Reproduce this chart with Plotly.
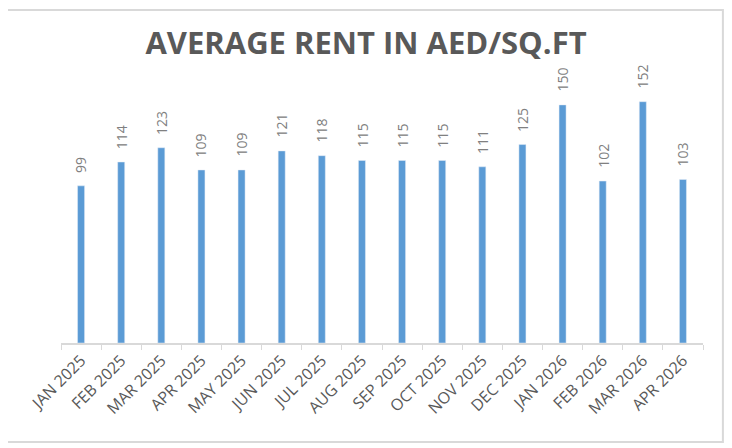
import plotly.graph_objects as go

# Loyers moyens (AED/sq.ft)
mois = ['JAN 2025', 'FEB 2025', 'MAR 2025', 'APR 2025', 'MAY 2025', 'JUN 2025',
        'JUL 2025', 'AUG 2025', 'SEP 2025', 'OCT 2025', 'NOV 2025', 'DEC 2025',
        'JAN 2026', 'FEB 2026', 'MAR 2026', 'APR 2026']
loyer = [99, 114, 123, 109, 109, 121, 118, 115, 115, 115, 111, 125, 150, 102, 152, 103]

gris = '#d9d9d9'

fig = go.Figure()
fig.add_trace(go.Bar(x=mois, y=loyer, marker_color='#5b9bd5'))

# Étiquettes de valeur verticales au-dessus des barres
for m, v in zip(mois, loyer):
    fig.add_annotation(x=m, y=v, text=str(v), textangle=-90, showarrow=False,
                       xanchor='center', yanchor='bottom', yshift=11,
                       font=dict(family='Open Sans', size=14, color='#808080'))

# Cadre autour du graphique
fig.add_shape(type='rect', xref='paper', yref='paper',
              x0=-0.087, x1=1.031, y0=-0.39, y1=1.311,
              line=dict(color=gris, width=2))

# la page ajoute ~8px de marge, d'où les marges décalées
fig.update_layout(
    width=732, height=448,
    margin=dict(l=53, r=37, t=81, b=113),
    paper_bgcolor='white', plot_bgcolor='white',
    bargap=0.825,
    showlegend=False,
    title=dict(text='<b>AVERAGE RENT IN AED/SQ.FT</b>', x=358 / 732, xref='container',
               xanchor='center', y=1 - 35 / 448, yanchor='middle',
               font=dict(family='Open Sans', size=31, color='#595959')),
    xaxis=dict(tickangle=-45, tickson='boundaries', ticks='outside', ticklen=5,
               tickcolor=gris, showline=True, linecolor=gris, linewidth=2,
               automargin=False,
               tickfont=dict(family='Open Sans', size=16, color='#595959')),
    yaxis=dict(range=[0, 160], visible=False),
)

fig.write_html('out.html')
